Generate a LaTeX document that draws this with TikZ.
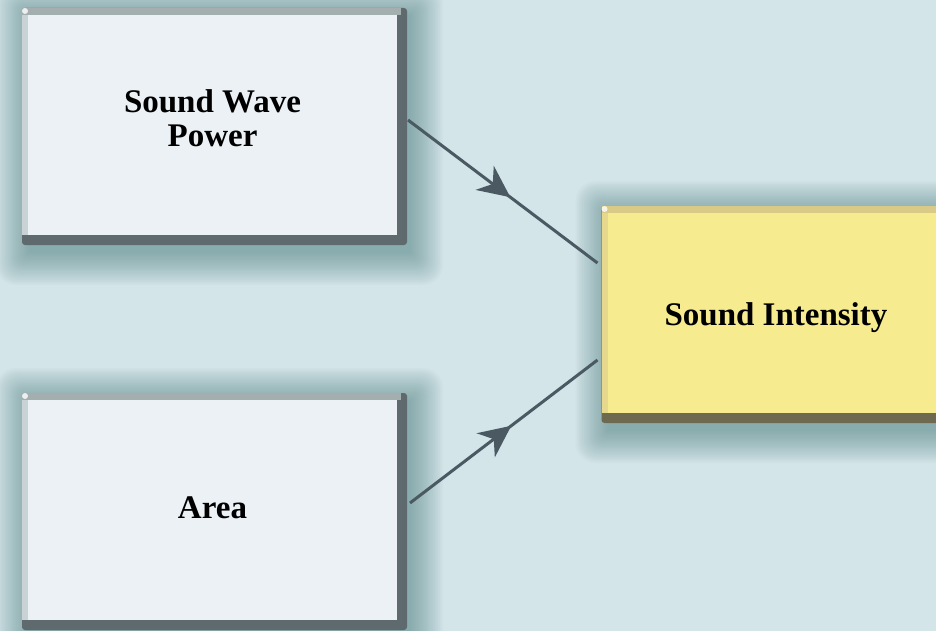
\documentclass[tikz,border=0pt]{standalone}
\usepackage{fontspec}
\setmainfont{Liberation Serif}
\usetikzlibrary{arrows.meta,decorations.markings,backgrounds,calc}

\definecolor{bgcol}{HTML}{D4E5E9}
\definecolor{glowcol}{HTML}{4F8282}
\definecolor{facecol}{HTML}{EBF1F4}
\definecolor{bevdark}{HTML}{5E6A6D}
\definecolor{bevtop}{HTML}{A3AEAF}
\definecolor{bevleft}{HTML}{C9D3D5}
\definecolor{yelface}{HTML}{F6EB8E}
\definecolor{yeltop}{HTML}{D9CA88}
\definecolor{yelleft}{HTML}{E6D98E}
\definecolor{yeldark}{HTML}{6E6A50}
\definecolor{linecol}{HTML}{4B5A62}

\tikzset{
  boxtext/.style={font=\bfseries\fontsize{33}{34}\selectfont, align=center,
    inner sep=0pt, outer sep=0pt},
  greybox/.style={boxtext, fill=facecol, minimum width=369pt, minimum height=220pt},
  yellowbox/.style={boxtext, fill=yelface, minimum width=337pt, minimum height=200pt},
  conn/.style={draw=linecol, line width=3pt, postaction={decorate},
    decoration={markings, mark=at position 0.54 with
      {\arrow{Stealth[length=32pt,width=30pt,inset=10pt]}}}},
}

% soft glow, bevel strips and corner highlight behind a box face
\newcommand{\bevelframe}[5]{% node, top colour, left colour, dark colour, glow size
  \begin{pgfonlayer}{background}
    \foreach \g in {1,...,20}{
      \fill[glowcol, opacity=0.035, rounded corners=\g pt]
        ($(#1.north west)+(-\g*#5/20+2,-\g*#5/20+2)$)
        rectangle ($(#1.south east)+(\g*#5/20+12,\g*#5/20+16)$);
    }
    \fill[#4, rounded corners=3pt] ($(#1.north west)+(-6,-7)$)
      rectangle ($(#1.south east)+(10,10)$);
    \fill[#2] ($(#1.north west)+(-6,-7)$) rectangle ($(#1.north east)+(4,0)$);
    \fill[#3] ($(#1.north west)+(-6,0)$) rectangle ($(#1.south west)+(0,0)$);
    \fill[white, opacity=0.8] ($(#1.north west)+(-3,-4)$) circle (3pt);
  \end{pgfonlayer}
}

\begin{document}
\begin{tikzpicture}[x=1pt, y=-1pt]
  \useasboundingbox (0,0) rectangle (936,631);
  \begin{pgfonlayer}{background}
    \fill[bgcol] (0,0) rectangle (936,631);
  \end{pgfonlayer}

  \node[greybox, text depth=13pt] (pw) at (212.5,125) {Sound Wave\\Power};
  \node[greybox, text depth=5pt] (ar) at (212.5,510) {Area};
  \node[yellowbox, text height=33pt] (si) at (776,313) {Sound Intensity};

  \bevelframe{pw}{bevtop}{bevleft}{bevdark}{34}
  \bevelframe{ar}{bevtop}{bevleft}{bevdark}{34}
  \bevelframe{si}{yeltop}{yelleft}{yeldark}{34}

  \draw[conn] ([xshift=11pt,yshift=5pt]pw.east) -- ([xshift=-10pt,yshift=50pt]si.west);
  \draw[conn] ([xshift=13pt,yshift=7pt]ar.east) -- ([xshift=-10pt,yshift=-47pt]si.west);
\end{tikzpicture}
\end{document}
